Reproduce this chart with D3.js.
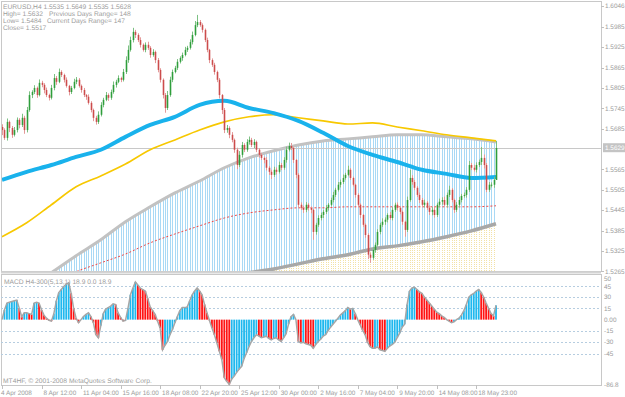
<!DOCTYPE html>
<html>
<head>
<meta charset="utf-8">
<script src="https://cdn.jsdelivr.net/npm/d3@7"></script>
<style>
body{margin:0;background:#fff}
svg{display:block}
text{font-family:"Liberation Sans",Arial,sans-serif;text-rendering:geometricPrecision}
</style>
</head>
<body>
<script>
// EURUSD H4 closes (bar 0 = 4 Apr 2008 00:00)
var firstOpen = 1.5690;
var closes = [1.5681,1.5658,1.5705,1.5687,1.5667,1.5681,1.5711,1.5696,1.5717,1.5681,
 1.5740,1.5784,1.5793,1.5805,1.5784,1.5820,1.5814,1.5799,1.5784,1.5776,
 1.5805,1.5834,1.5823,1.5852,1.5843,1.5829,1.5811,1.5793,1.5805,1.5823,
 1.5829,1.5811,1.5799,1.5784,1.5779,1.5761,1.5740,1.5717,1.5705,1.5726,
 1.5755,1.5770,1.5784,1.5776,1.5793,1.5814,1.5823,1.5834,1.5829,1.5852,
 1.5887,1.5917,1.5946,1.5970,1.5961,1.5946,1.5932,1.5917,1.5932,1.5923,
 1.5902,1.5911,1.5887,1.5858,1.5829,1.5784,1.5746,1.5784,1.5829,1.5852,
 1.5864,1.5882,1.5893,1.5902,1.5917,1.5923,1.5940,1.5961,1.5990,1.5999,
 1.5990,1.5976,1.5946,1.5917,1.5887,1.5873,1.5852,1.5829,1.5784,1.5740,
 1.5681,1.5687,1.5667,1.5652,1.5623,1.5578,1.5608,1.5637,1.5623,1.5646,
 1.5652,1.5637,1.5646,1.5623,1.5608,1.5599,1.5593,1.5570,1.5558,1.5549,
 1.5564,1.5558,1.5578,1.5570,1.5593,1.5623,1.5634,1.5628,1.5593,1.5549,
 1.5461,1.5452,1.5446,1.5461,1.5452,1.5446,1.5381,1.5402,1.5422,1.5431,
 1.5440,1.5452,1.5461,1.5475,1.5490,1.5505,1.5520,1.5528,1.5540,1.5549,
 1.5564,1.5540,1.5520,1.5490,1.5461,1.5431,1.5402,1.5372,1.5314,1.5305,
 1.5328,1.5343,1.5381,1.5402,1.5411,1.5417,1.5431,1.5422,1.5446,1.5461,
 1.5452,1.5440,1.5411,1.5387,1.5475,1.5540,1.5528,1.5511,1.5490,1.5475,
 1.5461,1.5467,1.5452,1.5440,1.5446,1.5431,1.5461,1.5470,1.5475,1.5461,
 1.5490,1.5505,1.5475,1.5446,1.5461,1.5475,1.5487,1.5490,1.5505,1.5578,
 1.5570,1.5564,1.5578,1.5587,1.5599,1.5578,1.5505,1.5520,1.5520,1.5534,
 1.5628];
// wick lengths in pips above / below the body
var wickUp = [8,5,10,4,6,9,7,5,12,6, 9,11,5,8,4,10,6,5,7,4, 9,12,6,10,5,4,7,3,6,9,
 8,5,4,6,3,7,5,4,6,10, 8,6,9,5,7,10,6,8,4,9, 11,13,10,12,6,5,8,4,7,9,
 5,8,4,6,5,4,6,12,9,7, 6,8,5,7,9,6,8,10,12,21, 6,5,4,7,3,5,6,4,5,3,
 6,9,5,8,4,6,11,9,5,8, 10,6,8,4,5,6,4,8,5,6, 9,7,10,6,8,9,10,9,4,3,
 5,7,6,8,5,4,3,6,8,7, 6,8,5,7,9,6,8,7,10,6, 12,5,4,3,5,4,3,4,5,6,
 9,7,8,6,10,7,5,9,8,6, 7,5,4,3,10,24,8,6,5,7, 6,9,5,7,8,10,6,9,8,10,
 7,12,5,4,8,9,6,7,8,12, 6,9,8,7,32,10,6,8,7,9, 21];
var wickDn = [15,6,8,12,9,5,7,10,6,11, 7,5,9,6,8,4,7,10,6,8, 5,7,9,4,6,8,5,10,6,4,
 7,5,8,6,9,5,7,10,8,6, 5,7,4,9,6,5,8,4,7,5, 6,8,5,7,9,6,8,5,7,6,
 8,5,9,7,8,10,14,6,5,7, 4,6,5,8,4,6,5,7,4,6, 5,8,6,7,9,6,8,7,10,12,
 9,8,10,7,9,12,6,8,7,6, 8,6,9,7,8,6,10,8,9,12, 6,8,5,7,6,8,5,6,9,10,
 8,6,9,7,8,10,23,8,6,7, 9,6,8,5,7,6,5,8,6,5, 4,6,5,8,7,9,6,8,13,15,
 6,8,5,7,6,9,8,5,7,6, 8,7,9,20,6,5,8,7,6,9, 7,8,6,9,10,8,6,7,9,5,
 8,6,7,9,6,8,7,5,8,6, 7,5,8,6,9,10,7,6,8,9, 0];

// indicator lines, sampled every 10 bars
var lineIdx   = [0,10,20,30,40,50,60,70,80,90,100,110,120,130,140,150,160,170,180,190,200];
var maBlue    = [1.5534,1.5558,1.5578,1.5602,1.5623,1.5661,1.5696,1.5720,1.5755,1.5767,1.5746,1.5731,1.5708,1.5673,1.5634,1.5608,1.5587,1.5564,1.5552,1.5540,1.5543];
var maYellow  = [1.5367,1.5408,1.5461,1.5514,1.5546,1.5581,1.5623,1.5652,1.5681,1.5705,1.5720,1.5726,1.5717,1.5708,1.5699,1.5702,1.5690,1.5679,1.5667,1.5658,1.5649];
var bandUpper = [1.5166,1.5213,1.5261,1.5311,1.5358,1.5411,1.5455,1.5496,1.5531,1.5570,1.5599,1.5620,1.5637,1.5649,1.5655,1.5661,1.5667,1.5667,1.5661,1.5655,1.5646];
var bandLower = [1.5122,1.5137,1.5152,1.5166,1.5181,1.5196,1.5211,1.5225,1.5237,1.5249,1.5261,1.5272,1.5287,1.5302,1.5314,1.5331,1.5340,1.5352,1.5367,1.5384,1.5405];
var bandMid   = [1.5181,1.5205,1.5231,1.5264,1.5290,1.5316,1.5349,1.5375,1.5399,1.5422,1.5437,1.5446,1.5452,1.5452,1.5455,1.5455,1.5455,1.5455,1.5455,1.5455,1.5458];

// MACD H4-300(5,13,1) histogram
var macd = [0,13,22,23,24,25,26,15,4,9, 9,8,7,22,23,22,13,6,2,-1,
 -2,8,25,36,40,44,47,49,35,15, 2,-4,0,4,7,9,4,-4,-20,-24,
 -8,8,14,16,18,21,20,9,3,-2, -1,15,33,42,50,46,42,40,38,28,
 17,12,7,-2,-11,-40,-34,-29,-20,-13, -4,4,12,16,16,17,25,33,38,42,
 38,33,20,9,-1,-11,-20,-31,-42,-53, -77,-82,-86,-79,-75,-70,-66,-62,-52,-44,
 -36,-29,-24,-20,-22,-24,-23,-22,-25,-27, -25,-24,-27,-29,-24,-19,-6,4,7,0,
 -29,-31,-30,-32,-33,-34,-38,-33,-29,-26, -22,-20,-15,-10,-6,-2,2,6,9,12,
 16,14,15,8,0,-7,-14,-20,-30,-36, -38,-38,-36,-40,-41,-42,-38,-35,-33,-30,
 -24,-18,-10,-6,20,38,42,43,40,37, 35,30,26,22,18,14,10,8,5,3,
 0,-2,-4,-3,0,2,6,12,20,30, 33,35,38,40,36,30,22,15,8,5, 18.9];

var priceTicks = [1.6046,1.5985,1.5925,1.5865,1.5805,1.5745,1.5685,1.5565,1.5505,1.5445,1.5385,1.5325,1.5265];
var lastPrice = 1.5629;
var macdTicks = [50,45,30,15,0,-15,-30,-45,-86.8];
var macdTickText = ["50","45","30","15","0.00","-15","-30","-45","-86.8"];
var macdLevels = [45,30,15,-15,-30,-45];
var dateIdx = [0,16,32,48,64,80,96,112,128,144,160,176,192];
var dateText = ["4 Apr 2008","8 Apr 12:00","11 Apr 04:00","15 Apr 16:00","18 Apr 08:00","22 Apr 20:00",
 "25 Apr 12:00","30 Apr 00:00","2 May 16:00","7 May 04:00","9 May 20:00","14 May 08:00","18 May 23:00"];
var header = ["EURUSD,H4  1.5535 1.5649 1.5535 1.5628", "High= 1.5632", "Low= 1.5484", "Close= 1.5517"];
var header2 = ["", "Previous Days Range= 148", "Current Days Range= 147", ""];

function draw_chart(){
  var W = 625, H = 397;
  var L = 1, R = 601, top = 2, bot = 271, mTop = 274, mBot = 385;
  var fs = "6.4px", fsBig = "6.7px", txt = "#9c9c9c";

  var svg = d3.select("body").append("svg").attr("width", W).attr("height", H);
  var defs = svg.append("defs");

  var x = d3.scaleLinear().domain([0, 200]).range([2, 496]);
  var y = d3.scaleLinear().domain([1.5266, 1.6058]).range([bot, top]);
  var ym = d3.scaleLinear().domain([-86.8, 50]).range([mBot, 282]);

  var pts = function(arr){ return lineIdx.map(function(d,i){ return [d, arr[i]]; }); };

  // clip paths
  defs.append("clipPath").attr("id","panel").append("rect")
    .attr("x", L).attr("y", top).attr("width", R-L).attr("height", bot-top);
  defs.append("clipPath").attr("id","band").append("path")
    .attr("d", d3.area().curve(d3.curveMonotoneX)
      .x(function(d){ return x(d[0]); })
      .y0(function(d){ return y(d[2]); })
      .y1(function(d){ return y(d[1]); })(lineIdx.map(function(d,i){ return [d, bandUpper[i], bandLower[i]]; })));
  defs.append("clipPath").attr("id","below").append("path")
    .attr("d", d3.area().curve(d3.curveMonotoneX)
      .x(function(d){ return x(d[0]); })
      .y0(bot)
      .y1(function(d){ return y(d[1]); })(pts(bandLower)));

  var main = svg.append("g").attr("clip-path","url(#panel)");
  var bars = d3.range(closes.length);

  main.append("g").attr("clip-path","url(#band)")
    .selectAll("line").data(bars).enter().append("line")
    .attr("x1", function(i){ return Math.round(x(i))+0.5; })
    .attr("x2", function(i){ return Math.round(x(i))+0.5; })
    .attr("y1", top).attr("y2", bot)
    .attr("stroke", "#a9d9f5").attr("stroke-width", 1);

  main.append("g").attr("clip-path","url(#below)")
    .selectAll("line").data(bars).enter().append("line")
    .attr("x1", function(i){ return Math.round(x(i))+0.5; })
    .attr("x2", function(i){ return Math.round(x(i))+0.5; })
    .attr("y1", top).attr("y2", bot)
    .attr("stroke", "#f3e2a6").attr("stroke-width", 1).attr("stroke-dasharray", "1,1");

  var line = d3.line().curve(d3.curveMonotoneX)
    .x(function(d){ return x(d[0]); }).y(function(d){ return y(d[1]); });

  main.append("path").attr("d", line(pts(bandMid))).attr("fill","none")
    .attr("stroke","#ee4a4a").attr("stroke-width",1).attr("stroke-dasharray","2,2");
  main.append("path").attr("d", line(pts(bandUpper))).attr("fill","none")
    .attr("stroke","#c2c2c2").attr("stroke-width",3);
  main.append("path").attr("d", line(pts(bandLower))).attr("fill","none")
    .attr("stroke","#a8a8a8").attr("stroke-width",3.5);

  // current price line
  main.append("line").attr("x1", L).attr("x2", R)
    .attr("y1", Math.round(y(lastPrice))+0.5).attr("y2", Math.round(y(lastPrice))+0.5)
    .attr("stroke","#c8c8c8").attr("stroke-width",1);

  main.append("path").attr("d", line(pts(maYellow))).attr("fill","none")
    .attr("stroke","#f7c800").attr("stroke-width",1.6);
  main.append("path").attr("d", line(pts(maBlue))).attr("fill","none")
    .attr("stroke","#19b2ec").attr("stroke-width",4);

  // candles
  var candles = bars.map(function(i){
    var o = i === 0 ? firstOpen : closes[i-1], c = closes[i];
    return {i:i, o:o, c:c, h:Math.max(o,c)+wickUp[i]/10000, l:Math.min(o,c)-wickDn[i]/10000};
  });
  var cg = main.append("g");
  cg.selectAll("line").data(candles).enter().append("line")
    .attr("x1", function(d){ return Math.round(x(d.i))+0.5; })
    .attr("x2", function(d){ return Math.round(x(d.i))+0.5; })
    .attr("y1", function(d){ return y(d.h); }).attr("y2", function(d){ return y(d.l); })
    .attr("stroke", function(d){ return d.c >= d.o ? "#7cc083" : "#e49a9a"; }).attr("stroke-width",1);
  cg.selectAll("rect").data(candles).enter().append("rect")
    .attr("x", function(d){ return Math.round(x(d.i))-0.3; })
    .attr("width", 1.6)
    .attr("y", function(d){ return y(Math.max(d.o,d.c)); })
    .attr("height", function(d){ return Math.max(1, Math.abs(y(d.o)-y(d.c))); })
    .attr("fill", function(d){ return d.c >= d.o ? "#2f9e3c" : "#cc4c4c"; });

  // frames
  var fr = svg.append("g").attr("stroke","#c8c8c8").attr("fill","none");
  fr.append("rect").attr("x", L+0.5).attr("y", top-0.5).attr("width", R-L).attr("height", bot-top+1);
  fr.append("line").attr("x1", L).attr("x2", R).attr("y1", 272.5).attr("y2", 272.5).attr("stroke-width",2).attr("stroke","#d4d4d4");
  fr.append("rect").attr("x", L+0.5).attr("y", mTop+0.5).attr("width", R-L).attr("height", mBot-mTop);

  // price axis
  var pa = svg.append("g");
  pa.selectAll("line").data(priceTicks).enter().append("line")
    .attr("x1", R).attr("x2", R+3)
    .attr("y1", function(d){ return Math.round(y(d))+0.5; }).attr("y2", function(d){ return Math.round(y(d))+0.5; })
    .attr("stroke","#c0c0c0");
  pa.selectAll("text").data(priceTicks).enter().append("text")
    .attr("x", R+4).attr("y", function(d){ return y(d)+2.2; })
    .attr("font-size", fs).attr("fill", txt)
    .text(function(d){ return d.toFixed(4); });
  pa.append("rect").attr("x", R+2).attr("y", y(lastPrice)-4.5).attr("width", 22).attr("height", 9).attr("fill","#c4c4c4");
  pa.append("text").attr("x", R+4).attr("y", y(lastPrice)+2.2).attr("font-size", fs).attr("fill","#ffffff")
    .text(lastPrice.toFixed(4));

  // header
  svg.append("g").selectAll("text").data(header).enter().append("text")
    .attr("x", 3).attr("y", function(d,i){ return 8.5 + i*7; })
    .attr("font-size", fsBig).attr("fill", txt).text(function(d){ return d; });
  svg.append("g").selectAll("text").data(header2).enter().append("text")
    .attr("x", function(d,i){ return i === 1 ? 49 : 47; }).attr("y", function(d,i){ return 8.5 + i*7; })
    .attr("font-size", fsBig).attr("fill", txt).text(function(d){ return d; });

  // MACD panel
  var mg = svg.append("g");
  mg.selectAll("line.lv").data(macdLevels).enter().append("line")
    .attr("x1", L).attr("x2", R)
    .attr("y1", function(d){ return Math.round(ym(d))+0.5; }).attr("y2", function(d){ return Math.round(ym(d))+0.5; })
    .attr("stroke","#b6cde0").attr("stroke-dasharray","2,2");
  mg.selectAll("rect").data(macd).enter().append("rect")
    .attr("x", function(d,i){ return x(i)-0.9; }).attr("width", 1.8)
    .attr("y", function(d){ return Math.min(ym(0), ym(d)); })
    .attr("height", function(d){ return Math.abs(ym(d)-ym(0)); })
    .attr("fill", function(d,i){ return (i === 0 || d >= macd[i-1]) ? "#1fb8ee" : "#ff1414"; });
  mg.append("path")
    .attr("d", d3.line().x(function(d,i){ return x(i); }).y(function(d){ return ym(d); })(macd))
    .attr("fill","none").attr("stroke","#a6a6a6").attr("stroke-width",1.5);

  mg.selectAll("text.tk").data(macdTicks).enter().append("text")
    .attr("x", R+3).attr("y", function(d,i){ return ym(d) + 2.2 + (i === 0 ? -3 : i === 1 ? 1 : 0); })
    .attr("font-size", fs).attr("fill", txt)
    .text(function(d,i){ return macdTickText[i]; });
  mg.append("text").attr("x", 4).attr("y", 284).attr("font-size", fsBig).attr("fill", txt)
    .text("MACD H4-300(5,13,1) 18.9 0.0 18.9");
  mg.append("text").attr("x", 3).attr("y", 383).attr("font-size", fsBig).attr("fill", txt)
    .text("MT4HF, \u00a9 2001-2008 MetaQuotes Software Corp.");

  // date axis
  var da = svg.append("g");
  da.selectAll("line").data(dateIdx).enter().append("line")
    .attr("x1", function(d){ return Math.round(x(d))+0.5; }).attr("x2", function(d){ return Math.round(x(d))+0.5; })
    .attr("y1", mBot).attr("y2", mBot+4).attr("stroke","#c0c0c0");
  da.selectAll("text").data(dateIdx).enter().append("text")
    .attr("x", function(d,i){ return i === 0 ? 1 : x(d)+2; }).attr("y", 394.5)
    .attr("font-size", fs).attr("fill", txt)
    .text(function(d,i){ return dateText[i]; });
}

draw_chart();
</script>
</body>
</html>
